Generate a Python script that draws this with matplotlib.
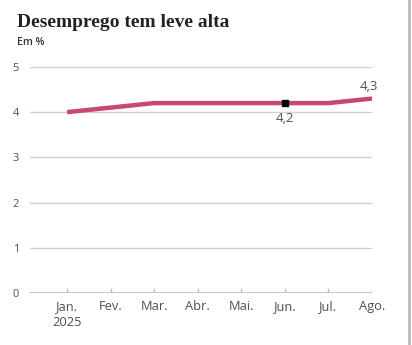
import matplotlib
matplotlib.use("Agg")
import matplotlib.pyplot as plt

plt.rcParams["font.family"] = ["Open Sans", "DejaVu Sans"]

# Taxa de desemprego mensal, em %
MESES = ["Jan.\n2025", "Fev.", "Mar.", "Abr.", "Mai.", "Jun.", "Jul.", "Ago."]
TAXA = [4.0, 4.1, 4.2, 4.2, 4.2, 4.2, 4.2, 4.3]
ROTULOS = {5: "4,2", 7: "4,3"}
Y_TICKS = [0, 1, 2, 3, 4, 5]

LINHA = "#C84871"
CINZA = "#505050"
GRADE = "#D0D0D0"

fig = plt.figure(figsize=(4.12, 3.45), dpi=100)
ax = fig.add_axes([0.073, 0.151, 0.83, 0.655])

x = list(range(len(MESES)))
ax.plot(x, TAXA, color=LINHA, linewidth=3.2, solid_capstyle="butt", zorder=3)
ax.plot([5], [TAXA[5]], marker="s", color="black", markersize=4.5, zorder=4)

for i, txt in ROTULOS.items():
    if i == 7:
        ax.text(i - 0.08, TAXA[i] + 0.13, txt, ha="center", va="bottom",
                fontsize=9.5, color=CINZA)
    else:
        ax.text(i, TAXA[i] - 0.2, txt, ha="center", va="top",
                fontsize=9.5, color=CINZA)

ax.set_xlim(-0.85, 7.0)
ax.set_ylim(0, 5)
ax.set_yticks(Y_TICKS)
ax.set_yticklabels([str(v) for v in Y_TICKS])
for v in Y_TICKS[1:]:
    ax.axhline(v, color=GRADE, linewidth=1, zorder=1)
ax.axhline(0, color="#BBBBBB", linewidth=1.2, zorder=2)

# marcas do eixo x saindo da linha de base para cima
for xi in x:
    ax.plot([xi, xi], [0, 0.09], color="#BBBBBB", linewidth=1, zorder=2)

ax.set_xticks(x)
ax.set_xticklabels(MESES, fontsize=9.3, color=CINZA, linespacing=1.35)
ax.tick_params(axis="x", length=0, pad=5)
ax.tick_params(axis="y", length=0, pad=8, labelsize=8, labelcolor=CINZA)
for s in ax.spines.values():
    s.set_visible(False)

fig.text(0.041, 0.935, "Desemprego tem leve alta", fontsize=14,
         fontweight="bold", family="Liberation Serif", color="#222222",
         va="center")
fig.text(0.041, 0.877, "Em %", fontsize=7.5, fontweight="semibold",
         color="#333333", va="center")

# borda da direita
fig.add_artist(plt.Line2D([0.993, 0.993], [0, 1], color="#BBBBBB",
                          linewidth=2, transform=fig.transFigure))

fig.savefig("out.png", dpi=100)
